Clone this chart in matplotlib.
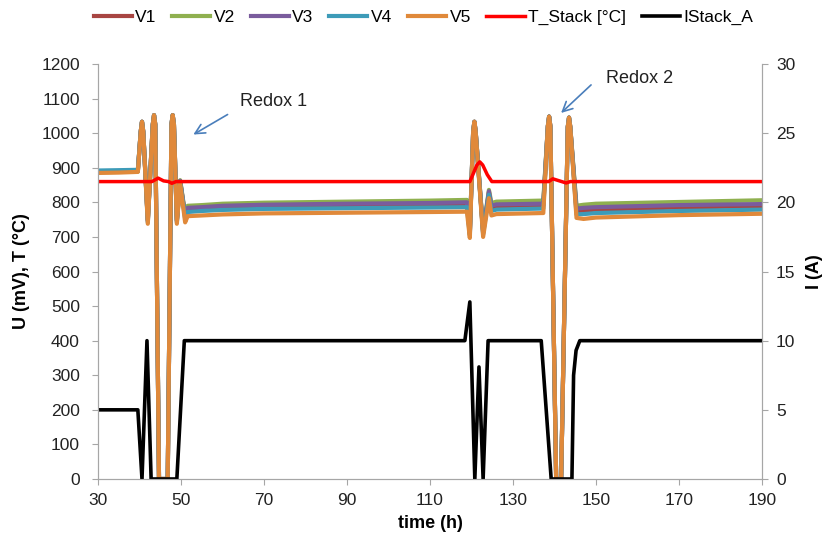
import matplotlib
matplotlib.use('Agg')
import matplotlib.pyplot as plt

plt.rcParams['font.family'] = ['Liberation Sans', 'DejaVu Sans']

# cell voltages (mV)
t_v = [30, 35, 39.6, 40.3, 40.6, 40.9, 42.0, 43.2, 43.5, 43.8, 44.7, 46.8, 47.7, 48.0, 48.3,
       49.0, 49.8, 51.0, 51.6, 55, 60, 70, 90, 110, 118.9, 119.6, 120.4, 120.7, 121.0, 122.8,
       124.2, 124.8, 126, 136.9, 137.3, 138.4, 138.7, 139.0, 140.4, 141.6, 143.2, 143.5, 143.8,
       145.3, 147, 150, 170, 190]
v1 = [889, 890, 891, 1005, 1033, 1005, 748, 1025, 1052, 1025, 0, 0, 1025, 1052, 1025,
      748, 862, 758, 780, 782, 786, 789, 791, 793, 794, 710, 1005, 1033, 1005, 712,
      828, 785, 789, 791, 791, 1020, 1048, 1020, 0, 0, 1018, 1045, 1018,
      775, 776, 779, 785, 789]
v2 = [887, 888, 889, 1005, 1033, 1005, 750, 1025, 1052, 1025, 0, 0, 1025, 1052, 1025,
      750, 864, 766, 790, 792, 796, 799, 802, 805, 807, 715, 1005, 1033, 1005, 718,
      836, 798, 802, 805, 805, 1020, 1048, 1020, 0, 0, 1018, 1045, 1018,
      790, 793, 796, 801, 806]
v3 = [888, 889, 890, 1005, 1033, 1005, 746, 1025, 1052, 1025, 0, 0, 1025, 1052, 1025,
      746, 862, 762, 784, 786, 790, 793, 796, 798, 800, 712, 1005, 1033, 1005, 715,
      832, 790, 794, 796, 796, 1020, 1048, 1020, 0, 0, 1018, 1045, 1018,
      782, 784, 786, 792, 795]
v4 = [892, 893, 894, 1005, 1033, 1005, 742, 1025, 1052, 1025, 0, 0, 1025, 1052, 1025,
      742, 860, 752, 772, 775, 778, 781, 783, 785, 786, 705, 1005, 1033, 1005, 708,
      822, 775, 779, 782, 782, 1020, 1048, 1020, 0, 0, 1018, 1045, 1018,
      765, 766, 769, 775, 779]
v5 = [885, 886, 888, 1005, 1033, 1005, 738, 1025, 1052, 1025, 0, 0, 1025, 1052, 1025,
      738, 855, 742, 760, 762, 765, 768, 770, 772, 773, 697, 1005, 1033, 1005, 700,
      812, 762, 766, 769, 769, 1020, 1048, 1020, 0, 0, 1018, 1045, 1018,
      755, 752, 756, 763, 767]

# stack temperature (degC)
t_temp = [30, 43.0, 44.5, 45.8, 47.0, 47.8, 48.8, 119.6, 120.5, 121.3, 122.0, 122.7, 123.8,
          124.9, 138.6, 139.6, 141.2, 142.8, 143.8, 190]
temp = [860, 860, 870, 862, 860, 855, 860, 860, 885, 908, 917, 908, 880,
        860, 860, 868, 862, 856, 860, 860]

# stack current (A)
t_cur = [30, 39.6, 40.6, 41.8, 42.8, 49.0, 50.8, 118.4, 119.6, 120.8, 121.8, 122.8, 124.0,
         136.8, 139.2, 144.2, 144.6, 145.2, 146.1, 190]
cur = [5, 5, 0, 10, 0, 0, 10, 10, 12.8, 0, 8.1, 0, 10,
       10, 0, 0, 7.5, 9.3, 10, 10]

v_names = ['V1', 'V2', 'V3', 'V4', 'V5']
v_colors = ['#a84542', '#8fb04f', '#7a5c9d', '#3d9bb8', '#e0893a']

fig = plt.figure(figsize=(8.27, 5.41), dpi=100)
ax = fig.add_axes([0.1185, 0.1146, 0.8029, 0.7671])
ax2 = ax.twinx()

handles = []
for name, vals, c in zip(v_names, [v1, v2, v3, v4, v5], v_colors):
    h, = ax.plot(t_v, vals, color=c, lw=3.0, label=name, solid_joinstyle='round')
    handles.append(h)
h, = ax.plot(t_temp, temp, color='#ff0000', lw=2.5, label='T_Stack [°C]')
handles.append(h)
h, = ax2.plot(t_cur, cur, color='black', lw=2.6, label='IStack_A', solid_joinstyle='round')
handles.append(h)

ax.set_xlim(30, 190)
ax.set_ylim(0, 1200)
ax2.set_ylim(0, 30)
ax.set_xticks(range(30, 191, 20))
ax.set_yticks(range(0, 1201, 100))
ax2.set_yticks(range(0, 31, 5))

for a in (ax, ax2):
    a.spines['top'].set_visible(False)
    for s in ('left', 'right', 'bottom'):
        a.spines[s].set_color('#a6a6a6')
    a.tick_params(colors='#a6a6a6', labelcolor='#222222', labelsize=12.5, length=4)
ax.tick_params(axis='y', pad=9)
ax.tick_params(axis='x', pad=6)
ax2.tick_params(axis='y', pad=6)

ax.set_xlabel('time (h)', fontsize=13, fontweight='bold', labelpad=5)
ax.set_ylabel('U (mV), T (°C)', fontsize=13, fontweight='bold', labelpad=8)
ax2.set_ylabel('I (A)', fontsize=13, fontweight='bold', labelpad=8)

arrow = dict(arrowstyle='->,head_length=0.7,head_width=0.35', color='#4a7ebb', lw=1.2)
ax.annotate('', xy=(52.4, 992), xytext=(61.8, 1058), arrowprops=arrow)
ax.text(64.2, 1093, 'Redox 1', fontsize=13, ha='left', va='center', color='#222222')
ax.annotate('', xy=(141.1, 1053), xytext=(149.3, 1145), arrowprops=arrow)
ax.text(152.4, 1157, 'Redox 2', fontsize=13, ha='left', va='center', color='#222222')

fig.legend(handles=handles, loc='center', bbox_to_anchor=(0.512, 0.968), ncol=7,
           frameon=False, fontsize=12.5, handlelength=2.2, handletextpad=0.2,
           columnspacing=0.9)

fig.savefig('out.png', dpi=100)
